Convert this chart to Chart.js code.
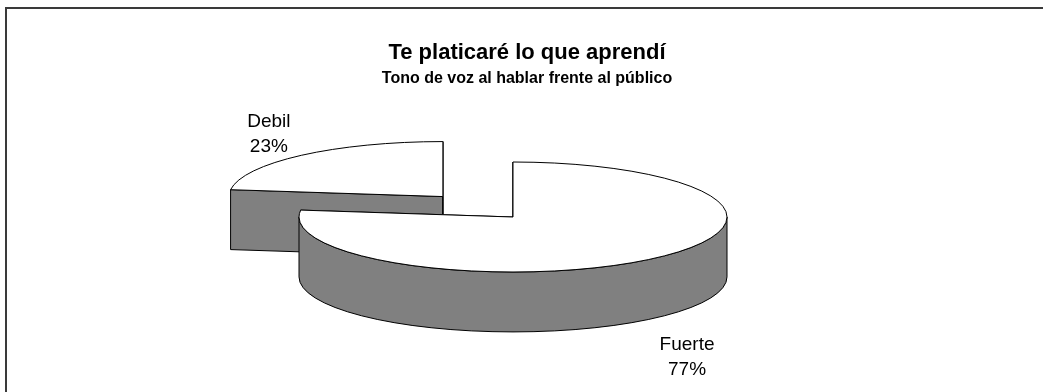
<!DOCTYPE html>
<html>
<head>
<meta charset="utf-8">
<script src="https://cdn.jsdelivr.net/npm/chart.js@4/dist/chart.umd.min.js"></script>
<style>
  html, body { margin: 0; padding: 0; background: #fff; }
  #chart { display: block; }
</style>
</head>
<body>
<canvas id="chart" width="1043" height="392"></canvas>
<script>
// data
const categories = ["Fuerte", "Debil"]
const values = [77, 23]
const explode = [0, 106] // px the slice is pulled out of the pie
const titleText = "Te platicaré lo que aprendí"
const subtitleText = "Tono de voz al hablar frente al público"

// 3d look
const TILT = 0.257   // ellipse height / width
const DEPTH = 0.28   // side wall height, relative to radius
const SIDE = "#808080"
const FONT = "'Liberation Sans', Arial, sans-serif"
const LABEL_K = 1.23

// part of [a0, a1] that faces the viewer (sin > 0)
function frontPart(a0, a1) {
  const out = []
  for (let k = -1; k <= 1; k++) {
    const lo = Math.max(a0, 2 * Math.PI * k)
    const hi = Math.min(a1, 2 * Math.PI * k + Math.PI)
    if (hi > lo) out.push([lo, hi])
  }
  return out
}

function slicesOf(chart) {
  return chart.getDatasetMeta(0).data.map((arc, i) => {
    const p = arc.getProps(["x", "y", "startAngle", "endAngle", "outerRadius"])
    const mid = (p.startAngle + p.endAngle) / 2
    const off = arc.options.offset || 0
    return {
      i, mid,
      cx: p.x + off * Math.cos(mid),
      cy: p.y + off * Math.sin(mid) * TILT,
      r: p.outerRadius,
      ry: p.outerRadius * TILT,
      d: p.outerRadius * DEPTH,
      a0: p.startAngle,
      a1: p.endAngle,
    }
  })
}

const pie3d = {
  id: "pie3d",
  beforeDraw(chart) {
    const ctx = chart.ctx
    ctx.save()
    ctx.fillStyle = "#fff"
    ctx.fillRect(0, 0, chart.width, chart.height)
    ctx.strokeStyle = "#3a3a3a"
    ctx.lineWidth = 2
    ctx.strokeRect(6, 8, chart.width + 20, chart.height + 20)
    ctx.restore()
  },
  beforeDatasetsDraw(chart) {
    const ctx = chart.ctx
    const order = slicesOf(chart).sort((p, q) => Math.sin(p.mid) - Math.sin(q.mid))
    ctx.save()
    ctx.lineWidth = 1
    ctx.strokeStyle = "#000"
    ctx.lineJoin = "round"
    order.forEach((s) => {
      // cut faces
      ;[s.a0, s.a1].forEach((a) => {
        const px = s.cx + s.r * Math.cos(a)
        const py = s.cy + s.ry * Math.sin(a)
        ctx.beginPath()
        ctx.moveTo(s.cx, s.cy)
        ctx.lineTo(px, py)
        ctx.lineTo(px, py + s.d)
        ctx.lineTo(s.cx, s.cy + s.d)
        ctx.closePath()
        ctx.fillStyle = SIDE
        ctx.fill()
        ctx.stroke()
      })
      // outer wall
      frontPart(s.a0, s.a1).forEach(([lo, hi]) => {
        ctx.beginPath()
        ctx.ellipse(s.cx, s.cy, s.r, s.ry, 0, lo, hi, false)
        ctx.ellipse(s.cx, s.cy + s.d, s.r, s.ry, 0, hi, lo, true)
        ctx.closePath()
        ctx.fillStyle = SIDE
        ctx.fill()
        ctx.stroke()
      })
      // top
      ctx.beginPath()
      ctx.moveTo(s.cx, s.cy)
      ctx.ellipse(s.cx, s.cy, s.r, s.ry, 0, s.a0, s.a1, false)
      ctx.closePath()
      ctx.fillStyle = "#fff"
      ctx.fill()
      ctx.stroke()
    })
    ctx.restore()
    return false
  },
  afterDraw(chart) {
    const ctx = chart.ctx
    const total = values.reduce((a, b) => a + b, 0)
    ctx.save()
    ctx.fillStyle = "#000"
    ctx.textAlign = "center"

    // titles
    ctx.textBaseline = "alphabetic"
    ctx.font = "bold 22px " + FONT
    ctx.fillText(titleText, 527, 59)
    ctx.font = "bold 16px " + FONT
    ctx.fillText(subtitleText, 527, 83)

    // data labels
    ctx.font = "19px " + FONT
    ctx.textBaseline = "middle"
    slicesOf(chart).forEach((s) => {
      const sin = Math.sin(s.mid)
      const lx = s.cx + s.r * LABEL_K * Math.cos(s.mid)
      let ly = s.cy + s.ry * LABEL_K * sin
      ly += sin > 0 ? s.d + 30 : -12
      const pct = Math.round((values[s.i] / total) * 100) + "%"
      ctx.fillText(categories[s.i], lx, ly - 12.5)
      ctx.fillText(pct, lx, ly + 12.5)
    })
    ctx.restore()
  },
}

new Chart(document.getElementById("chart"), {
  type: "pie",
  data: {
    labels: categories,
    datasets: [
      {
        data: values,
        offset: explode,
        radius: 214,
        backgroundColor: "#fff",
        borderColor: "#000",
        borderWidth: 1,
      },
    ],
  },
  options: {
    responsive: false,
    animation: false,
    devicePixelRatio: 1,
    events: [],
    layout: { padding: { left: 0, right: 17, top: 42, bottom: 0 } },
    plugins: {
      legend: { display: false },
      tooltip: { enabled: false },
      title: { display: false },
    },
  },
  plugins: [pie3d],
})
</script>
</body>
</html>
